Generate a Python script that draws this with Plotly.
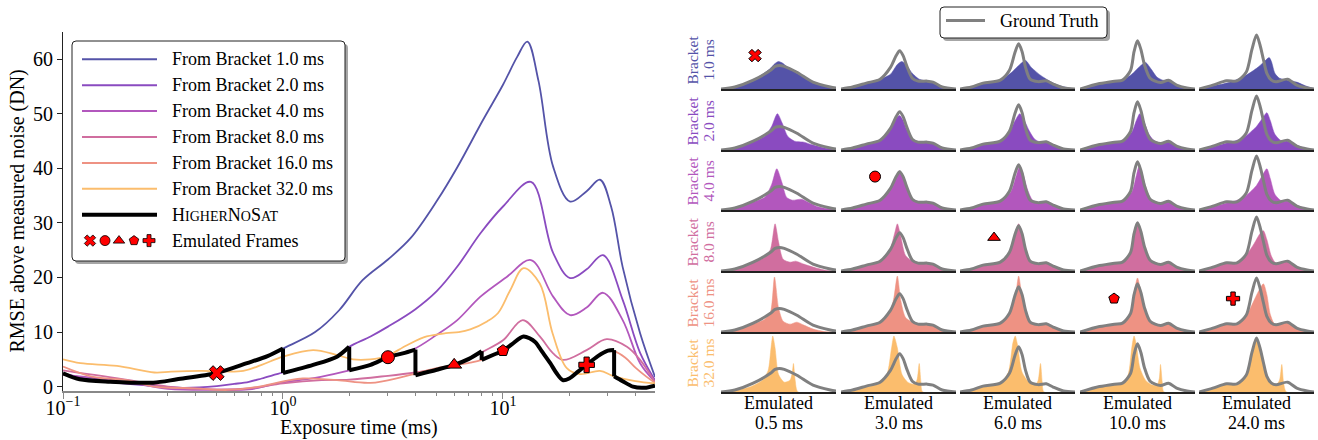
import plotly.graph_objects as go

W, H = 1318, 440
FONT = "Liberation Serif"

# ---------------- left panel data ----------------
bracket_labels = ["From Bracket 1.0 ms", "From Bracket 2.0 ms", "From Bracket 4.0 ms",
                  "From Bracket 8.0 ms", "From Bracket 16.0 ms", "From Bracket 32.0 ms"]
bracket_short = ["1.0 ms", "2.0 ms", "4.0 ms", "8.0 ms", "16.0 ms", "32.0 ms"]
bracket_colors = ["#5453a8", "#8a4bc0", "#b257bd", "#d06e9f", "#ee9283", "#fbbd6d"]

t_b1 = [0.1, 0.119, 0.164, 0.257, 0.33, 0.5, 0.686, 0.85, 1.0, 1.4, 1.8, 2.3, 3.0, 3.8, 5.0, 6.2,
        8.1, 10.0, 11.6, 12.9, 14.5, 16.9, 20.2, 24.0, 27.6, 31.0, 35.0, 42.0, 49.1]
v_b1 = [2.45, 1.35, 0.92, 0.73, 1.35, 2.5, 4.3, 5.6, 7.0, 10.0, 14.0, 19.5, 23.3, 27.2, 34.0, 40.2,
        48.8, 55.3, 60.4, 63.2, 56.0, 40.3, 33.9, 35.8, 37.9, 33.0, 21.9, 9.8, 1.8]

t_b2 = [0.1, 0.15, 0.25, 0.35, 0.5, 0.6, 0.7, 0.8, 1.0, 1.37, 1.76, 2.0, 2.5, 3.0, 4.0, 5.0, 6.2,
        7.9, 10.0, 13.4, 16.9, 20.2, 24.0, 28.5, 35.0, 42.0, 49.1]
v_b2 = [2.4, 1.0, 0.2, -0.2, 0.1, 0.5, 0.9, 1.5, 2.6, 4.0, 5.5, 7.3, 9.2, 11.0, 14.2, 17.5, 22.0,
        28.1, 33.0, 37.5, 24.5, 19.9, 21.5, 24.1, 15.9, 6.2, 1.2]

t_b4 = [0.1, 0.2, 0.3, 0.5, 0.7, 0.87, 1.0, 1.4, 2.0, 2.5, 3.0, 3.9, 5.0, 6.2, 7.9, 10.4, 13.4,
        16.9, 20.2, 24.0, 28.5, 35.0, 42.0, 49.1]
v_b4 = [2.2, 0.8, -0.4, -0.6, -0.5, 0.3, 0.8, 1.6, 3.0, 4.0, 5.4, 6.8, 9.5, 12.2, 16.5, 20.1, 23.2,
        16.5, 13.1, 14.5, 17.2, 12.2, 4.3, 0.9]

t_b8 = [0.1, 0.2, 0.3, 0.5, 0.7, 1.0, 1.5, 2.0, 3.0, 4.0, 5.0, 6.0, 7.0, 8.0, 10.0, 12.3, 14.7,
        16.9, 18.8, 24.0, 29.6, 36.6, 42.0, 49.1]
v_b8 = [3.0, 1.2, 0.0, -0.5, -0.3, 0.6, 1.2, 1.3, 2.0, 2.6, 3.2, 4.0, 5.0, 6.3, 8.5, 12.2, 9.2,
        6.1, 4.9, 6.7, 8.7, 7.3, 4.9, 0.8]

t_b16 = [0.1, 0.137, 0.195, 0.26, 0.4, 0.56, 0.78, 1.07, 1.23, 1.76, 2.5, 3.5, 5.0, 7.1, 8.0, 9.0,
         10.0, 11.0, 12.4, 14.0, 15.0, 16.4, 18.5, 20.0, 22.0, 24.0, 27.0, 30.0, 32.0, 36.0, 40.0,
         45.0, 49.1]
v_b16 = [3.7, 1.8, 1.2, 0.0, -0.3, -0.6, 0.0, 1.2, 1.5, 1.2, 0.7, 1.8, 3.4, 4.4, 4.9, 5.8,
         6.6, 7.8, 9.2, 8.2, 6.5, 4.3, 1.3, 1.5, 2.8, 4.0, 5.6, 6.6, 6.5, 5.3, 3.5,
         1.8, 0.7]

t_b32 = [0.1, 0.12, 0.176, 0.26, 0.31, 0.42, 0.66, 0.8, 1.0, 1.37, 1.76, 2.08, 2.49, 2.96, 3.66,
         4.5, 5.5, 6.3, 7.1, 8.5, 9.5, 10.8, 12.4, 14.7, 16.8, 19.5, 22.4, 27.6, 31.6, 40.0, 49.1]
v_b32 = [5.0, 4.3, 3.8, 2.6, 2.75, 2.9, 2.9, 4.0, 5.5, 6.7, 5.8, 5.0, 5.0, 5.6, 7.6,
         9.2, 9.8, 10.0, 10.5, 12.0, 13.5, 17.7, 21.7, 18.9, 9.8, 3.4, 2.3, 2.9, 2.0, 1.0, 0.6]

bracket_t = [t_b1, t_b2, t_b4, t_b8, t_b16, t_b32]
bracket_v = [v_b1, v_b2, v_b4, v_b8, v_b16, v_b32]

# HigherNoSat (repeated time = vertical jump)
black_t = [0.1, 0.119, 0.164, 0.257, 0.33, 0.5, 0.686, 0.85, 1.0, 1.0, 1.37, 1.76, 2.0, 2.0, 2.5,
           3.0, 3.5, 4.0, 4.0, 5.0, 6.0, 7.0, 8.0, 8.0, 9.0, 10.0, 11.0, 12.4, 14.0, 15.0, 16.4,
           17.5, 18.7, 20.0, 22.0, 24.0, 27.0, 30.0, 32.0, 32.0, 35.0, 39.0, 44.0, 49.1]
black_v = [2.45, 1.35, 0.92, 0.73, 1.35, 2.5, 4.3, 5.6, 7.0, 2.5, 4.0, 5.5, 7.3, 3.0, 4.0,
           5.4, 6.1, 6.8, 2.1, 3.1, 4.0, 5.1, 6.5, 4.9, 5.8, 6.6, 7.8, 9.2, 8.2, 6.5, 4.3,
           2.5, 1.2, 1.5, 2.8, 4.0, 5.6, 6.6, 6.7, 1.9, 1.0, 0.0, -0.2, 0.2]

emu_t = [0.5, 3.0, 6.0, 10.0, 24.0]
emu_v = [2.5, 5.4, 4.0, 6.6, 4.0]
emu_symbols = ["x", "circle", "triangle-up", "pentagon", "cross"]
emu_sizes = [13, 13, 13, 12, 13]

x_tickvals = [0.1, 1, 10]
x_ticktext = ["10<sup>\u22121</sup>", "10<sup>0</sup>", "10<sup>1</sup>"]
x_minor = [0.2, 0.3, 0.4, 0.5, 0.6, 0.7, 0.8, 0.9, 2, 3, 4, 5, 6, 7, 8, 9, 20, 30, 40]
y_tickvals = [0, 10, 20, 30, 40, 50, 60]

# ---------------- right panel data (cell x in 0..1, height in px units) ----------------
emulated_labels = ["0.5 ms", "3.0 ms", "6.0 ms", "10.0 ms", "24.0 ms"]

gt_curves = [
    [(0, 0), (0.12, 2), (0.28, 9), (0.43, 19), (0.47, 23), (0.51, 24), (0.55, 23), (0.66, 17), (0.8, 7), (0.95, 2), (1, 1)],
    [(0, 0), (0.1, 2), (0.22, 6), (0.34, 10), (0.43, 22), (0.48, 34), (0.51, 39), (0.54, 34), (0.57, 24), (0.62, 11), (0.67, 8), (0.75, 8), (0.8, 7), (0.88, 2), (1, 0)],
    [(0, 0), (0.1, 2), (0.2, 6), (0.35, 9), (0.43, 19), (0.48, 38), (0.51, 46), (0.54, 38), (0.57, 22), (0.61, 10), (0.68, 7.5), (0.75, 8.3), (0.81, 5), (0.9, 1), (1, 0)],
    [(0, 0), (0.17, 5.5), (0.3, 8), (0.37, 9), (0.44, 19), (0.47, 38), (0.5, 49), (0.53, 40), (0.56, 25), (0.61, 11), (0.7, 6.5), (0.77, 9), (0.84, 4), (0.93, 1), (1, 0)],
    [(0, 0), (0.12, 4), (0.24, 8.3), (0.33, 8.3), (0.41, 17), (0.46, 40), (0.5, 55), (0.53, 45), (0.56, 30), (0.59, 16), (0.63, 9), (0.67, 7.3), (0.77, 10), (0.85, 4), (0.94, 1), (1, 0)],
]

fill_b1 = [
    [(0, 0), (0.12, 2), (0.28, 9), (0.42, 20), (0.47, 26), (0.5, 28), (0.54, 26), (0.6, 20), (0.66, 16), (0.8, 7), (0.95, 2), (1, 1)],
    [(0, 0), (0.1, 2), (0.22, 6), (0.34, 10), (0.43, 15), (0.49, 25), (0.53, 28), (0.57, 24), (0.62, 16), (0.68, 10), (0.75, 8), (0.8, 6), (0.88, 2), (1, 0)],
    [(0, 0), (0.1, 2), (0.2, 5), (0.35, 9), (0.45, 17), (0.52, 25), (0.57, 29), (0.62, 22), (0.7, 14), (0.78, 8), (0.85, 4), (0.95, 1), (1, 0)],
    [(0, 0), (0.17, 5.5), (0.3, 8), (0.37, 9), (0.45, 15), (0.52, 23), (0.57, 27), (0.62, 20), (0.67, 12), (0.72, 9), (0.77, 8.5), (0.84, 4), (0.93, 1), (1, 0)],
    [(0, 0), (0.12, 3), (0.24, 6), (0.38, 12), (0.5, 21), (0.56, 27), (0.61, 32), (0.63, 28), (0.66, 16), (0.7, 11), (0.77, 9), (0.85, 7), (0.93, 3), (1, 0.5)],
]
fill_b2 = [
    [(0, 0), (0.12, 2), (0.25, 7), (0.38, 14), (0.44, 24), (0.49, 37), (0.53, 28), (0.58, 14), (0.64, 9), (0.72, 8), (0.8, 5), (0.9, 2), (1, 0.5)],
    [(0, 0), (0.1, 2), (0.22, 6), (0.34, 10), (0.43, 21), (0.48, 32), (0.51, 35), (0.54, 30), (0.57, 21), (0.62, 11), (0.67, 8), (0.75, 8), (0.8, 7), (0.88, 2), (1, 0)],
    [(0, 0), (0.1, 2), (0.2, 6), (0.35, 9), (0.43, 18), (0.48, 30), (0.52, 37), (0.56, 30), (0.6, 20), (0.65, 11), (0.7, 8), (0.75, 8), (0.81, 5), (0.9, 1), (1, 0)],
    [(0, 0), (0.17, 5.5), (0.3, 8), (0.37, 9), (0.45, 18), (0.49, 30), (0.52, 37), (0.56, 28), (0.6, 16), (0.65, 9), (0.72, 7), (0.77, 9), (0.84, 4), (0.93, 1), (1, 0)],
    [(0, 0), (0.12, 3), (0.24, 7), (0.38, 12), (0.5, 24), (0.55, 32), (0.59, 38), (0.62, 30), (0.66, 16), (0.72, 9), (0.77, 9), (0.85, 5), (0.94, 1), (1, 0)],
]
fill_b4 = [
    [(0, 0), (0.12, 2), (0.25, 7), (0.38, 13), (0.44, 26), (0.485, 42), (0.53, 28), (0.57, 13), (0.62, 10), (0.7, 11), (0.76, 8), (0.85, 3), (1, 0.5)],
    [(0, 0), (0.1, 2), (0.22, 6), (0.34, 10), (0.43, 22), (0.48, 35), (0.51, 40), (0.54, 34), (0.57, 24), (0.62, 11), (0.67, 8), (0.75, 8), (0.8, 7), (0.88, 2), (1, 0)],
    [(0, 0), (0.1, 2), (0.2, 6), (0.35, 9), (0.44, 18), (0.49, 35), (0.52, 45), (0.55, 36), (0.59, 20), (0.63, 10), (0.68, 7.5), (0.75, 8), (0.81, 5), (0.9, 1), (1, 0)],
    [(0, 0), (0.17, 5.5), (0.3, 8), (0.37, 9), (0.45, 18), (0.49, 35), (0.515, 45), (0.545, 35), (0.58, 20), (0.62, 10), (0.7, 6.5), (0.77, 9), (0.84, 4), (0.93, 1), (1, 0)],
    [(0, 0), (0.12, 3), (0.24, 7), (0.38, 12), (0.5, 25), (0.55, 35), (0.59, 42), (0.62, 32), (0.66, 16), (0.72, 9), (0.77, 9), (0.85, 5), (0.94, 1), (1, 0)],
]
fill_b8 = [
    [(0, 0), (0.12, 2), (0.25, 7), (0.38, 14), (0.43, 22), (0.47, 48), (0.5, 30), (0.54, 12), (0.6, 9), (0.65, 10), (0.72, 7), (0.8, 4), (0.9, 1), (1, 0)],
    [(0, 0), (0.1, 2), (0.22, 6), (0.34, 10), (0.42, 20), (0.47, 40), (0.49, 48), (0.52, 35), (0.56, 16), (0.62, 10), (0.7, 8), (0.8, 7), (0.88, 2), (1, 0)],
    [(0, 0), (0.1, 2), (0.2, 6), (0.35, 9), (0.43, 19), (0.48, 39), (0.51, 48), (0.54, 38), (0.57, 22), (0.61, 10), (0.68, 7.5), (0.75, 8.3), (0.81, 5), (0.9, 1), (1, 0)],
    [(0, 0), (0.17, 5.5), (0.3, 8), (0.37, 9), (0.44, 19), (0.47, 38), (0.5, 49), (0.53, 40), (0.56, 25), (0.61, 11), (0.7, 6.5), (0.77, 9), (0.84, 4), (0.93, 1), (1, 0)],
    [(0, 0), (0.12, 4), (0.24, 8), (0.33, 8), (0.41, 16), (0.48, 28), (0.53, 38), (0.56, 41), (0.59, 32), (0.63, 15), (0.67, 8), (0.77, 10), (0.85, 4), (0.94, 1), (1, 0)],
]
fill_b16 = [
    [(0, 0), (0.12, 2), (0.25, 7), (0.38, 13), (0.43, 20), (0.465, 56), (0.5, 25), (0.54, 11), (0.6, 8), (0.66, 10), (0.72, 7), (0.8, 3), (0.9, 0.5), (1, 0)],
    [(0, 0), (0.1, 2), (0.22, 6), (0.34, 10), (0.42, 18), (0.46, 35), (0.49, 57), (0.52, 32), (0.56, 15), (0.62, 10), (0.7, 8), (0.8, 7), (0.88, 2), (1, 0)],
    [(0, 0), (0.1, 2), (0.2, 6), (0.35, 9), (0.43, 18), (0.48, 35), (0.51, 57), (0.54, 35), (0.57, 20), (0.61, 10), (0.68, 7.5), (0.75, 8.3), (0.81, 5), (0.9, 1), (1, 0)],
    [(0, 0), (0.17, 5.5), (0.3, 8), (0.37, 9), (0.44, 19), (0.47, 40), (0.5, 55), (0.53, 40), (0.56, 24), (0.61, 11), (0.7, 6.5), (0.77, 9), (0.84, 4), (0.93, 1), (1, 0)],
    [(0, 0), (0.12, 4), (0.24, 8), (0.33, 8), (0.41, 16), (0.47, 30), (0.52, 42), (0.56, 49), (0.59, 38), (0.62, 18), (0.66, 8), (0.77, 10), (0.85, 4), (0.94, 1), (1, 0)],
]
fill_b32 = [
    [(0, 0), (0.12, 1.5), (0.25, 5), (0.36, 12), (0.41, 22), (0.435, 45), (0.45, 57), (0.47, 45), (0.5, 18), (0.55, 10), (0.6, 12), (0.62, 20), (0.63, 29), (0.645, 12), (0.67, 0), (1, 0)],
    [(0, 0), (0.1, 1.5), (0.22, 5), (0.34, 9), (0.4, 18), (0.44, 45), (0.46, 57), (0.49, 45), (0.53, 18), (0.58, 10), (0.63, 8), (0.66, 12), (0.68, 29), (0.695, 10), (0.71, 0), (1, 0)],
    [(0, 0), (0.1, 1.5), (0.2, 5), (0.35, 9), (0.42, 20), (0.46, 50), (0.48, 57), (0.5, 48), (0.54, 20), (0.6, 10), (0.66, 8), (0.68, 12), (0.7, 29), (0.715, 10), (0.73, 0), (1, 0)],
    [(0, 0), (0.17, 5), (0.3, 7.5), (0.37, 8.5), (0.42, 18), (0.45, 45), (0.47, 57), (0.49, 48), (0.52, 25), (0.57, 12), (0.63, 7), (0.67, 7), (0.69, 14), (0.7, 28), (0.715, 10), (0.73, 0), (1, 0)],
    [(0, 0), (0.12, 4), (0.24, 8), (0.33, 8), (0.41, 17), (0.46, 40), (0.5, 55), (0.53, 45), (0.56, 30), (0.59, 16), (0.63, 9), (0.67, 7.3), (0.7, 12), (0.72, 28), (0.735, 10), (0.76, 0), (1, 0)],
]
fill_rows = [fill_b1, fill_b2, fill_b4, fill_b8, fill_b16, fill_b32]

# which bracket (row) feeds each emulated frame (column)
chosen_cells = [(0, 0), (2, 1), (3, 2), (4, 3), (4, 4)]

# ---------------- layout geometry (pixels) ----------------
MAIN_X = (63, 655)
MAIN_Y = (32, 391)
COL_X0 = [721, 841, 960, 1080, 1199]
CELL_W = 115
ROW_BASE = [89, 150, 210, 271, 332, 392]
CELL_H = 57

fig = go.Figure()

# ---- main curves ----
for i in range(6):
    fig.add_trace(go.Scatter(x=bracket_t[i], y=bracket_v[i], mode="lines",
                             line=dict(color=bracket_colors[i], width=1.8, shape="spline", smoothing=1.0),
                             xaxis="x", yaxis="y", showlegend=False, hoverinfo="skip"))


def split_segments(ts, vs):
    xs, ys = [], []
    for i in range(len(ts)):
        if i > 0 and ts[i] == ts[i - 1]:
            xs += [None, ts[i - 1], ts[i], None]
            ys += [None, vs[i - 1], vs[i], None]
        xs.append(ts[i])
        ys.append(vs[i])
    return xs, ys


bx, by = split_segments(black_t, black_v)
fig.add_trace(go.Scatter(x=bx, y=by, mode="lines", connectgaps=False,
                         line=dict(color="black", width=4, shape="spline", smoothing=0.8),
                         xaxis="x", yaxis="y", showlegend=False, hoverinfo="skip"))
for i in range(5):
    fig.add_trace(go.Scatter(x=[emu_t[i]], y=[emu_v[i]], mode="markers",
                             marker=dict(symbol=emu_symbols[i], size=emu_sizes[i], color="#ff0000",
                                         line=dict(color="black", width=1)),
                             xaxis="x", yaxis="y", showlegend=False, hoverinfo="skip"))

# ---- cells ----
layout_axes = {}
for r in range(6):
    for c in range(5):
        k = 2 + r * 5 + c
        x0 = COL_X0[c]
        base = ROW_BASE[r]
        layout_axes[f"xaxis{k}"] = dict(domain=[x0 / W, (x0 + CELL_W) / W], range=[0, 1], anchor=f"y{k}",
                                        showline=True, linecolor="#222", linewidth=1.6, ticks="",
                                        showticklabels=False, showgrid=False, zeroline=False,
                                        fixedrange=True, automargin=False)
        layout_axes[f"yaxis{k}"] = dict(domain=[1 - base / H, 1 - (base - CELL_H) / H], range=[0, 58],
                                        anchor=f"x{k}", visible=False, fixedrange=True, automargin=False)
        pts = fill_rows[r][c]
        fig.add_trace(go.Scatter(x=[p[0] for p in pts], y=[p[1] for p in pts], mode="lines",
                                 fill="tozeroy", fillcolor=bracket_colors[r],
                                 line=dict(color=bracket_colors[r], width=0.5, shape="spline", smoothing=0.7),
                                 xaxis=f"x{k}", yaxis=f"y{k}", showlegend=False, hoverinfo="skip"))
        g = gt_curves[c]
        fig.add_trace(go.Scatter(x=[p[0] for p in g], y=[p[1] for p in g], mode="lines",
                                 line=dict(color="#808080", width=3, shape="spline", smoothing=0.8),
                                 xaxis=f"x{k}", yaxis=f"y{k}", showlegend=False, hoverinfo="skip"))

for j, (r, c) in enumerate(chosen_cells):
    k = 2 + r * 5 + c
    fig.add_trace(go.Scatter(x=[0.296], y=[34], mode="markers",
                             marker=dict(symbol=emu_symbols[j], size=11, color="#ff0000",
                                         line=dict(color="black", width=1)),
                             xaxis=f"x{k}", yaxis=f"y{k}", showlegend=False, hoverinfo="skip"))

# ---- overlay axis in pixel units for legends & labels ----
OV = 32
layout_axes[f"xaxis{OV}"] = dict(domain=[0, 1], range=[0, W], anchor=f"y{OV}", visible=False,
                                 fixedrange=True, automargin=False)
layout_axes[f"yaxis{OV}"] = dict(domain=[0, 1], range=[H, 0], anchor=f"x{OV}", visible=False,
                                 fixedrange=True, automargin=False)


def rrect(x0, y0, x1, y1, r):
    return (f"M{x0 + r},{y0} L{x1 - r},{y0} Q{x1},{y0} {x1},{y0 + r} L{x1},{y1 - r} Q{x1},{y1} {x1 - r},{y1} "
            f"L{x0 + r},{y1} Q{x0},{y1} {x0},{y1 - r} L{x0},{y0 + r} Q{x0},{y0} {x0 + r},{y0} Z")


shapes = []
annotations = []
for (bx0, by0, bx1, by1) in [(72, 41, 345, 261), (940, 7, 1107, 38)]:
    shapes.append(dict(type="path", path=rrect(bx0 + 3, by0 + 3, bx1 + 3, by1 + 3, 4), xref=f"x{OV}", yref=f"y{OV}",
                       fillcolor="rgba(0,0,0,0.35)", line=dict(width=0), layer="below"))
    shapes.append(dict(type="path", path=rrect(bx0, by0, bx1, by1, 4), xref=f"x{OV}", yref=f"y{OV}",
                       fillcolor="white", line=dict(color="#222", width=1), layer="below"))

LEG_Y0, LEG_DY = 59.3, 25.9
for i in range(6):
    yy = LEG_Y0 + i * LEG_DY
    fig.add_trace(go.Scatter(x=[82, 157], y=[yy, yy], mode="lines", line=dict(color=bracket_colors[i], width=2),
                             xaxis=f"x{OV}", yaxis=f"y{OV}", showlegend=False, hoverinfo="skip"))
    annotations.append(dict(x=170, y=yy, xref=f"x{OV}", yref=f"y{OV}", text=bracket_labels[i], showarrow=False,
                            xanchor="left", yanchor="middle", font=dict(size=18)))
yy = LEG_Y0 + 6 * LEG_DY
fig.add_trace(go.Scatter(x=[82, 157], y=[yy, yy], mode="lines", line=dict(color="black", width=4),
                         xaxis=f"x{OV}", yaxis=f"y{OV}", showlegend=False, hoverinfo="skip"))
sc = '<span style="font-size:14px">'
annotations.append(dict(x=170, y=yy, xref=f"x{OV}", yref=f"y{OV}",
                        text=f"H{sc}IGHER</span>N{sc}O</span>S{sc}AT</span>", showarrow=False,
                        xanchor="left", yanchor="middle", font=dict(size=18)))
yy = LEG_Y0 + 7 * LEG_DY
leg_mx = [90, 105, 119, 134, 149]
for i in range(5):
    fig.add_trace(go.Scatter(x=[leg_mx[i]], y=[yy], mode="markers",
                             marker=dict(symbol=emu_symbols[i], size=10, color="#ff0000",
                                         line=dict(color="black", width=0.8)),
                             xaxis=f"x{OV}", yaxis=f"y{OV}", showlegend=False, hoverinfo="skip"))
annotations.append(dict(x=170, y=yy, xref=f"x{OV}", yref=f"y{OV}", text="Emulated Frames", showarrow=False,
                        xanchor="left", yanchor="middle", font=dict(size=18)))

# Ground truth legend
fig.add_trace(go.Scatter(x=[946, 985], y=[20.5, 20.5], mode="lines", line=dict(color="#808080", width=3),
                         xaxis=f"x{OV}", yaxis=f"y{OV}", showlegend=False, hoverinfo="skip"))
annotations.append(dict(x=998, y=21, xref=f"x{OV}", yref=f"y{OV}", text="Ground Truth", showarrow=False,
                        xanchor="left", yanchor="middle", font=dict(size=18)))

# axis titles
annotations.append(dict(x=359, y=427, xref=f"x{OV}", yref=f"y{OV}", text="Exposure time (ms)", showarrow=False,
                        xanchor="center", yanchor="middle", font=dict(size=20)))
annotations.append(dict(x=17, y=211.5, xref=f"x{OV}", yref=f"y{OV}", text="RMSE above measured noise (DN)",
                        showarrow=False, textangle=-90, xanchor="center", yanchor="middle", font=dict(size=20)))

# row labels
for r in range(6):
    yc = ROW_BASE[r] - CELL_H / 2
    annotations.append(dict(x=692, y=yc, xref=f"x{OV}", yref=f"y{OV}", text="Bracket", showarrow=False,
                            textangle=-90, xanchor="center", yanchor="middle",
                            font=dict(size=15.5, color=bracket_colors[r])))
    annotations.append(dict(x=708, y=yc, xref=f"x{OV}", yref=f"y{OV}", text=bracket_short[r], showarrow=False,
                            textangle=-90, xanchor="center", yanchor="middle",
                            font=dict(size=15.5, color=bracket_colors[r])))
# column labels
for c in range(5):
    xc = COL_X0[c] + CELL_W / 2
    annotations.append(dict(x=xc, y=403, xref=f"x{OV}", yref=f"y{OV}", text="Emulated", showarrow=False,
                            xanchor="center", yanchor="middle", font=dict(size=18)))
    annotations.append(dict(x=xc, y=423, xref=f"x{OV}", yref=f"y{OV}", text=emulated_labels[c], showarrow=False,
                            xanchor="center", yanchor="middle", font=dict(size=18)))

fig.update_layout(
    template="none",
    width=W, height=H, autosize=False,
    margin=dict(l=0, r=0, t=0, b=0, pad=0, autoexpand=False),
    paper_bgcolor="white", plot_bgcolor="rgba(0,0,0,0)",
    showlegend=False,
    font=dict(family=FONT, color="black", size=18),
    xaxis=dict(domain=[MAIN_X[0] / W, MAIN_X[1] / W], type="log", range=[-1, 1.691], anchor="y",
               tickmode="array", tickvals=x_tickvals, ticktext=x_ticktext,
               ticks="outside", ticklen=6, tickwidth=1.2, tickcolor="#888", ticklabelstandoff=-8,
               showline=True, linecolor="#888", linewidth=1.5, showgrid=False, zeroline=False,
               tickfont=dict(size=20, color="black"), fixedrange=True, automargin=False,
               minor=dict(tickmode="array", tickvals=x_minor, ticks="outside", ticklen=3.5,
                          tickwidth=1, tickcolor="#888", showgrid=False)),
    yaxis=dict(domain=[1 - MAIN_Y[1] / H, 1 - MAIN_Y[0] / H], range=[-0.79, 64.96], anchor="x",
               tickmode="array", tickvals=y_tickvals, ticks="outside", ticklen=5, tickwidth=1.2,
               tickcolor="#222", showline=True, linecolor="#222", linewidth=1.2, showgrid=False,
               zeroline=False, tickfont=dict(size=20, color="black"), fixedrange=True, automargin=False),
    shapes=shapes,
    annotations=annotations,
    **layout_axes,
)

fig.write_html("out.html", config={"displayModeBar": False},
               post_script="document.body.style.margin='0';document.body.style.overflow='hidden';")
